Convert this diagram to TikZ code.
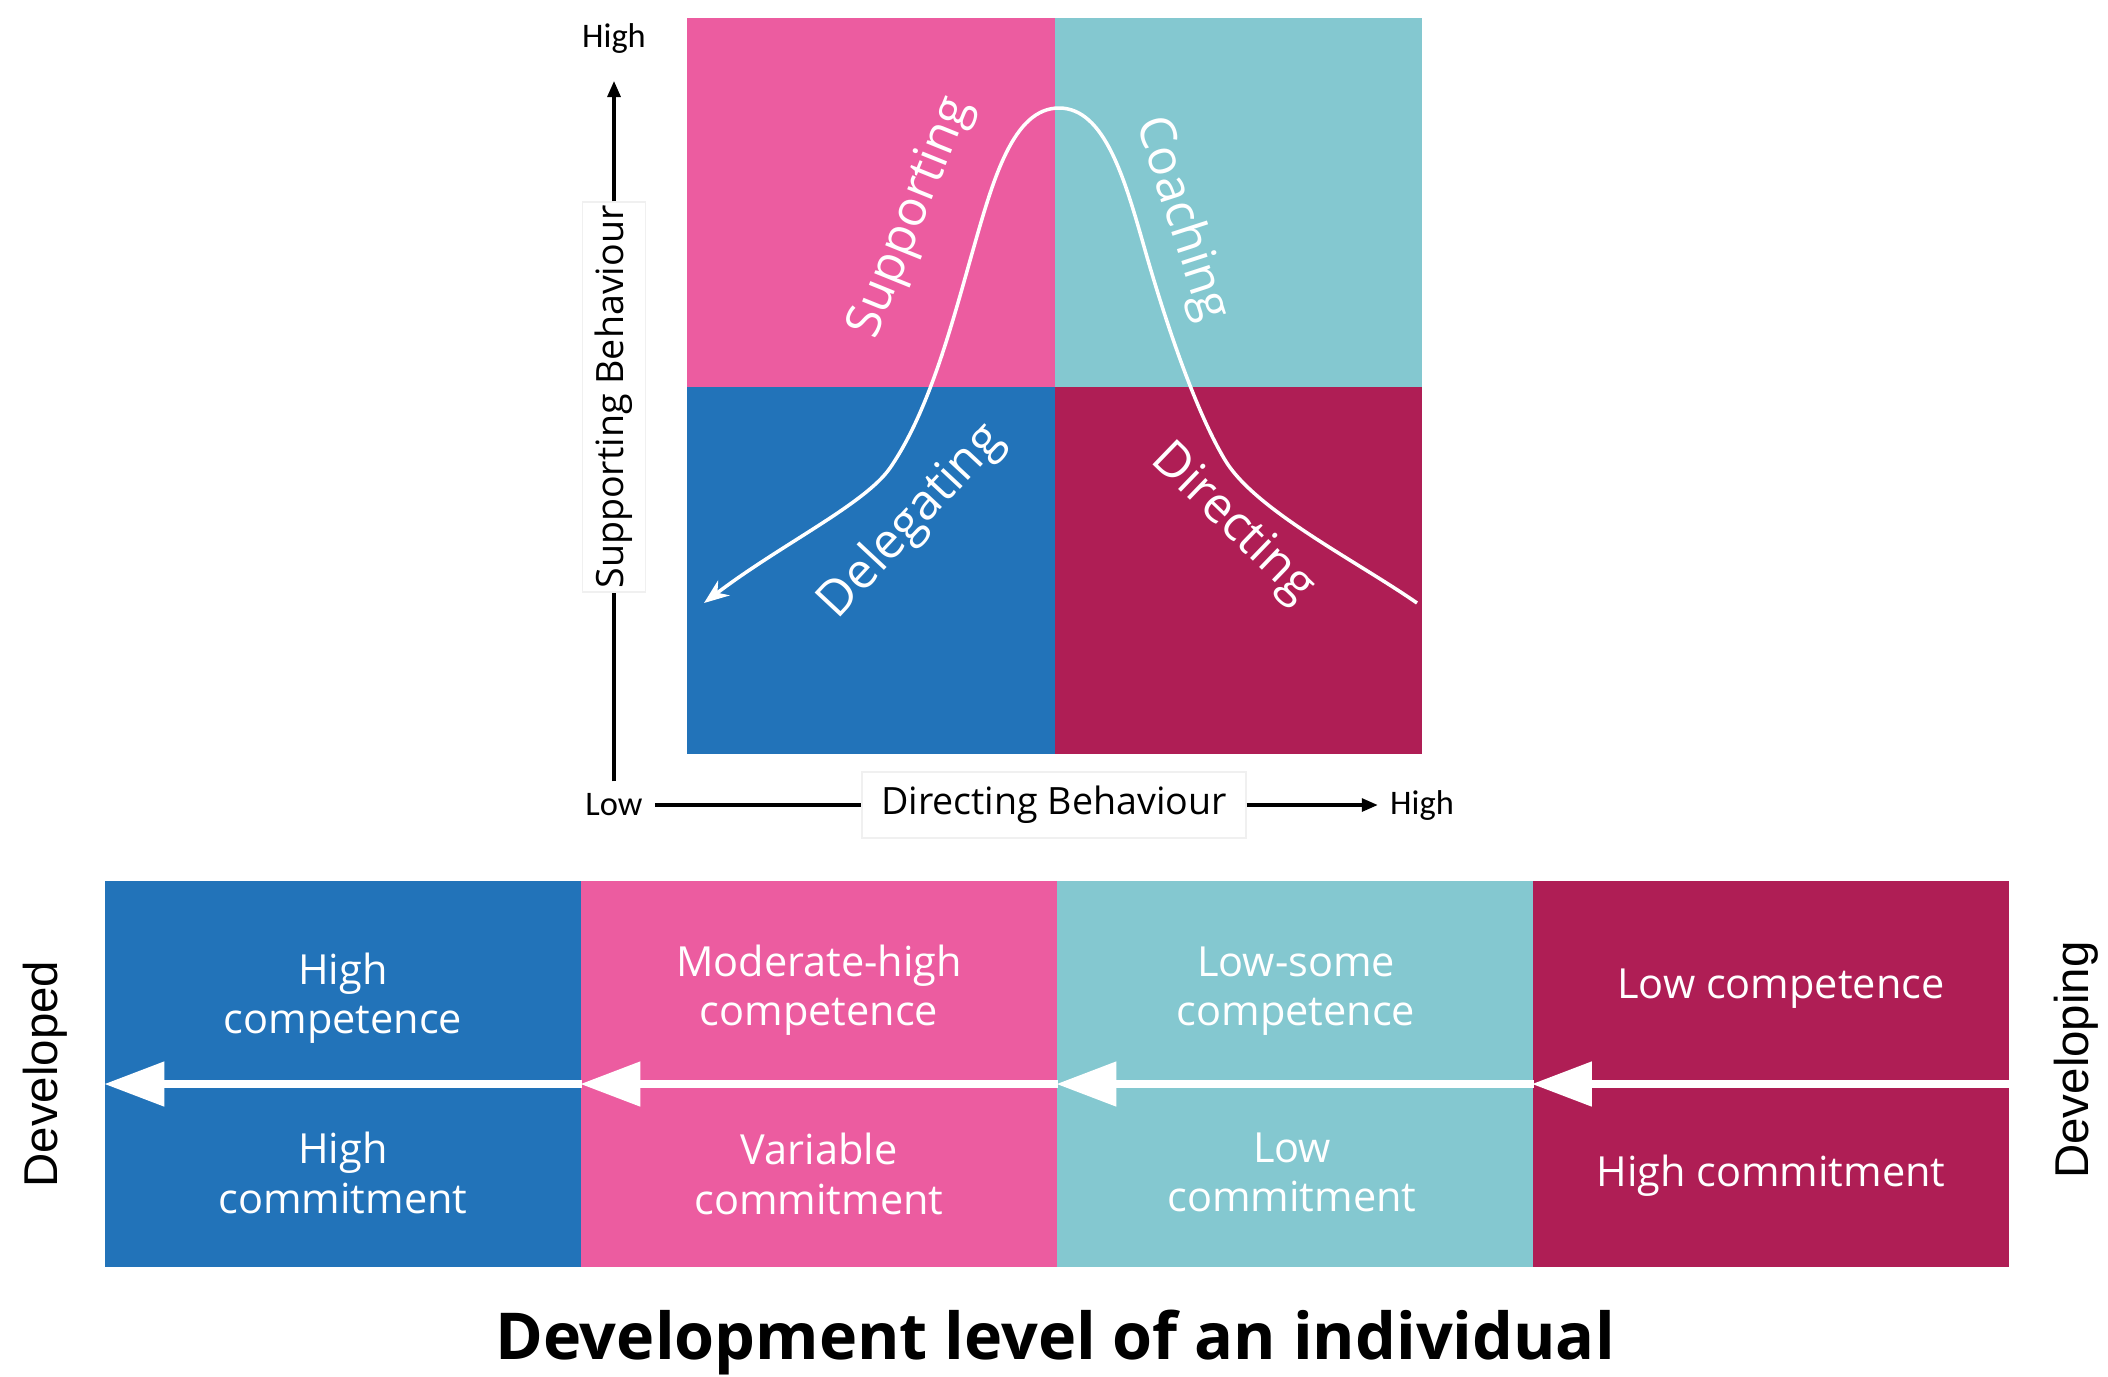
\documentclass[tikz,border=0pt]{standalone}
\usepackage{fontspec}
\setmainfont{Open Sans}
\newfontfamily\calibrifont{Carlito}
\newfontfamily\arialfont{Liberation Sans}
\usetikzlibrary{arrows.meta}
\definecolor{pinkq}{RGB}{236,92,160}
\definecolor{tealq}{RGB}{132,200,208}
\definecolor{blueq}{RGB}{34,115,185}
\definecolor{redq}{RGB}{175,30,85}

\begin{document}
\begin{tikzpicture}[
    quadtxt/.style={text=white, font=\fontsize{14}{17}\selectfont},
    bandcol/.style={minimum width=4.76cm, minimum height=3.86cm, inner sep=0pt},
    bandtxt/.style={text=white, align=center, font=\fontsize{11.8}{14}\selectfont},
    bandarrow/.style={white, line width=0.08cm, -{Triangle[length=0.6cm,width=0.43cm]}},
    axislbl/.style={fill=white, draw=black!6, font=\fontsize{10.7}{12}\selectfont, inner sep=0pt},
    endlbl/.style={font=\calibrifont\fontsize{9.8}{12}\selectfont},
    axisline/.style={line width=0.9pt},
    sidelbl/.style={rotate=90, font=\arialfont\fontsize{13.5}{16}\selectfont}
]
    \useasboundingbox (0,0) rectangle (21.08,-13.76);

    % Quadrants
    \fill[pinkq] (6.87,-0.175) rectangle (10.55,-3.87);
    \fill[tealq] (10.55,-0.175) rectangle (14.22,-3.87);
    \fill[blueq] (6.87,-3.87) rectangle (10.55,-7.54);
    \fill[redq] (10.55,-3.87) rectangle (14.22,-7.54);

    % Style curve
    \draw[white, line width=1pt, -{Stealth[length=0.25cm,width=0.19cm]}]
        (14.17,-6.03) .. controls (13.55,-5.60) and (12.55,-5.10) .. (12.25,-4.60)
        .. controls (11.95,-4.10) and (11.65,-3.20) .. (11.45,-2.50)
        .. controls (11.25,-1.80) and (11.05,-1.08) .. (10.59,-1.08)
        .. controls (10.13,-1.08) and (9.93,-1.80) .. (9.73,-2.50)
        .. controls (9.53,-3.20) and (9.30,-4.10) .. (8.90,-4.68)
        .. controls (8.65,-5.04) and (7.80,-5.45) .. (7.04,-6.03);

    \node[quadtxt, rotate=68] (supp) at (9.12,-2.18) {Supporting};
    \node[quadtxt, rotate=-72] (coach) at (11.81,-2.19) {Coaching};
    \node[quadtxt, rotate=47] (deleg) at (9.12,-5.22) {Delegating};
    \node[quadtxt, rotate=-44] (direc) at (12.32,-5.24) {Directing};

    % Axes
    \node[endlbl] (lowx) at (6.14,-8.05) {Low};
    \node[endlbl] (highy) at (6.14,-0.38) {High};
    \node[endlbl] (highx) at (14.22,-8.05) {High};
    \coordinate (ytip) at (6.14,-0.81);
    \node[axislbl, rotate=90, minimum width=3.9cm, minimum height=0.63cm] (supbeh) at (6.14,-3.97) {Supporting Behaviour};
    \node[axislbl, minimum width=3.84cm, minimum height=0.66cm] (dirbeh) at (10.54,-8.05) {Directing Behaviour};
    \draw[axisline] (lowx) -- (supbeh);
    \draw[axisline, -{Triangle[length=0.16cm,width=0.13cm]}] (supbeh) -- (ytip);
    \draw[axisline] (lowx) -- (dirbeh);
    \draw[axisline, -{Triangle[length=0.16cm,width=0.13cm]}] (dirbeh) -- (highx);

    % Development band
    \node[bandcol, fill=blueq] (dev1) at (3.43,-10.74) {};
    \node[bandcol, fill=pinkq] (dev2) at (8.19,-10.74) {};
    \node[bandcol, fill=tealq] (dev3) at (12.95,-10.74) {};
    \node[bandcol, fill=redq] (dev4) at (17.705,-10.74) {};
    \foreach \c in {1,...,4}
        \draw[bandarrow] ([yshift=-1mm]dev\c.east) -- ([yshift=-1mm]dev\c.west);

    \node[bandtxt] (comp1) at (3.43,-9.98) {High\\competence};
    \node[bandtxt] (comm1) at (3.43,-11.73) {High\\commitment};
    \node[bandtxt] (comp2) at (8.19,-9.90) {Moderate-high\\competence};
    \node[bandtxt] (comm2) at (8.19,-11.74) {Variable\\commitment};
    \node[bandtxt] (comp3) at (12.96,-9.91) {Low-some\\competence};
    \node[bandtxt] (comm3) at (12.92,-11.72) {Low\\commitment};
    \node[bandtxt] (comp4) at (17.81,-9.89) {Low competence};
    \node[bandtxt] (comm4) at (17.71,-11.76) {High commitment};

    \node[sidelbl] (developed) at (0.45,-10.74) {Developed};
    \node[sidelbl] (developing) at (20.76,-10.60) {Developing};

    \node[font=\bfseries\fontsize{18.4}{22}\selectfont] (title) at (10.55,-13.42) {Development level of an individual};
\end{tikzpicture}
\end{document}
